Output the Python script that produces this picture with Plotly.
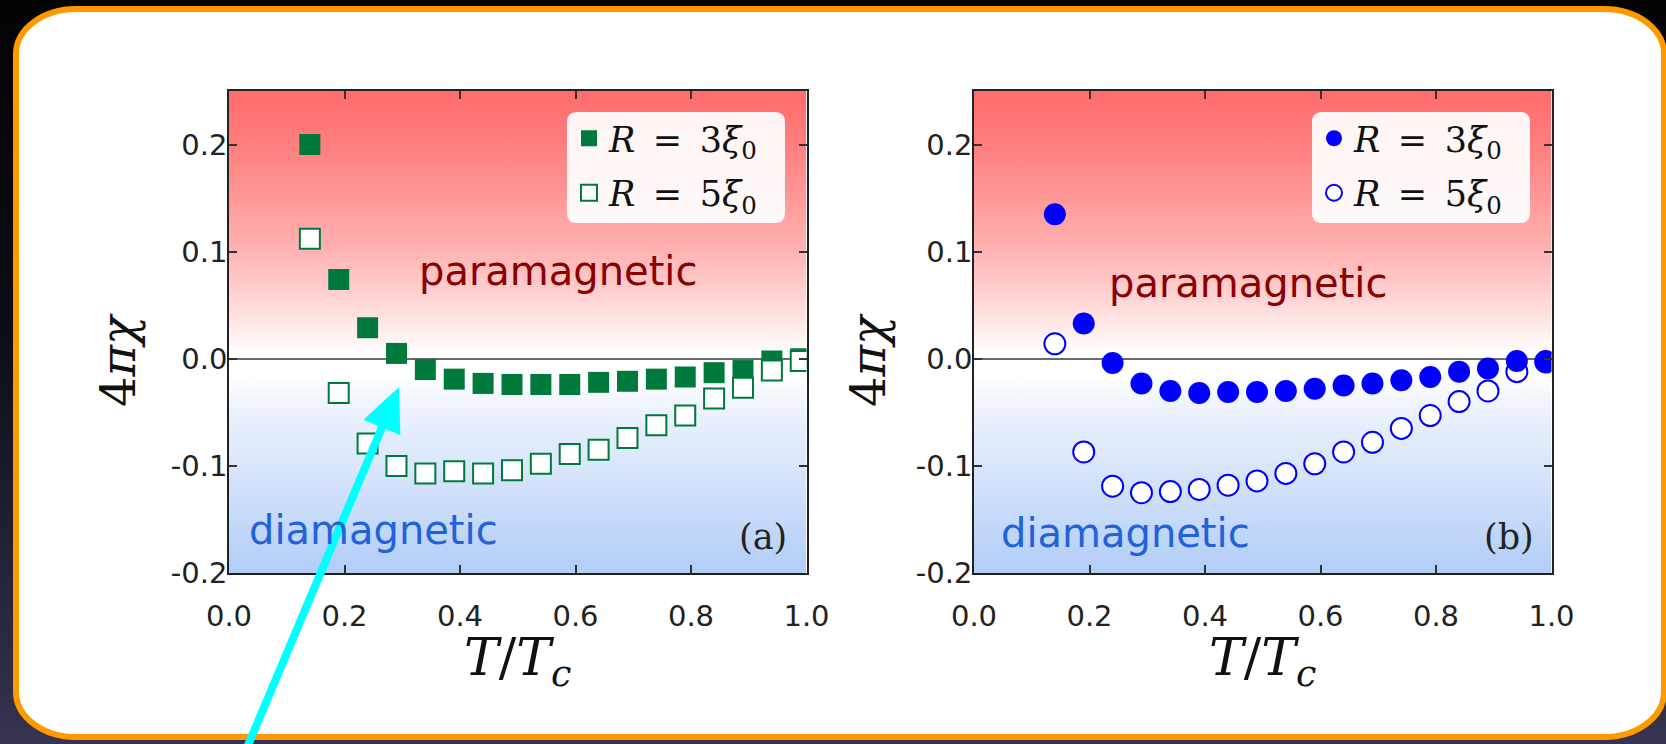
import base64
import math
import plotly.graph_objects as go

W, H = 1666, 744

# ---------------- data ----------------
T_over_Tc = [0.14, 0.19, 0.24, 0.29, 0.34, 0.39, 0.44, 0.49, 0.54,
             0.59, 0.64, 0.69, 0.74, 0.79, 0.84, 0.89, 0.94, 0.99]

chi_a_R3 = [0.200, 0.074, 0.029, 0.005, -0.010, -0.019, -0.023, -0.024, -0.024,
            -0.024, -0.022, -0.021, -0.019, -0.017, -0.013, -0.011, -0.002, 0.000]
chi_a_R5 = [0.112, -0.032, -0.079, -0.100, -0.107, -0.105, -0.107, -0.104, -0.098,
            -0.089, -0.085, -0.074, -0.062, -0.053, -0.037, -0.027, -0.011, -0.002]

chi_b_R3 = [0.135, 0.033, -0.004, -0.023, -0.030, -0.032, -0.031, -0.031, -0.030,
            -0.028, -0.025, -0.023, -0.020, -0.017, -0.012, -0.009, -0.002, -0.002]
chi_b_R5 = [0.014, -0.087, -0.119, -0.125, -0.124, -0.122, -0.118, -0.114, -0.107,
            -0.098, -0.087, -0.078, -0.065, -0.053, -0.040, -0.030, -0.012, -0.003]

series_labels = ["<i>R</i>\u2002=\u20023<i>ξ</i><sub>0</sub>",
                 "<i>R</i>\u2002=\u20025<i>ξ</i><sub>0</sub>"]
x_tickvals = [0.0, 0.2, 0.4, 0.6, 0.8, 1.0]
x_ticktext = ["0.0", "0.2", "0.4", "0.6", "0.8", "1.0"]
y_tickvals = [-0.2, -0.1, 0.0, 0.1, 0.2]
y_ticktext = ["-0.2", "-0.1", "0.0", "0.1", "0.2"]
x_range = [0.0, 1.0]
y_range = [-0.2, 0.25]
region_labels = ["paramagnetic", "diamagnetic"]
panel_labels = ["(a)", "(b)"]
x_title = "<i>T</i>/<i>T</i><sub><i>c</i></sub>"
y_title = "4<i>πχ</i>"


# ---------------- helpers ----------------
def px(x):
    return x / W


def py(y):
    return 1 - y / H


def svg_uri(svg):
    return "data:image/svg+xml;base64," + base64.b64encode(svg.encode("utf-8")).decode("ascii")


frame_svg = f"""<svg xmlns="http://www.w3.org/2000/svg" width="{W}" height="{H}" viewBox="0 0 {W} {H}" preserveAspectRatio="none">
<defs><linearGradient id="bg" x1="0" y1="0" x2="0" y2="1">
<stop offset="0" stop-color="#030304"/><stop offset="0.45" stop-color="#0d0d18"/>
<stop offset="1" stop-color="#36344f"/></linearGradient></defs>
<rect x="0" y="0" width="{W}" height="{H}" fill="url(#bg)"/>
<rect x="16" y="9" width="1648" height="728" rx="60" ry="45" fill="#ffffff" stroke="#ff9900" stroke-width="6"/>
</svg>"""

plot_svg = """<svg xmlns="http://www.w3.org/2000/svg" width="100" height="450" viewBox="0 0 100 450" preserveAspectRatio="none">
<defs><linearGradient id="pg" x1="0" y1="0" x2="0" y2="1">
<stop offset="0" stop-color="#ff6c6c"/>
<stop offset="0.111" stop-color="#ff7e7e"/>
<stop offset="0.333" stop-color="#ffb3b3"/>
<stop offset="0.444" stop-color="#ffd9d9"/>
<stop offset="0.545" stop-color="#ffffff"/>
<stop offset="0.585" stop-color="#ffffff"/>
<stop offset="0.667" stop-color="#ebf1fd"/>
<stop offset="0.778" stop-color="#d9e6fb"/>
<stop offset="1" stop-color="#b2cdf7"/>
</linearGradient></defs>
<rect x="0" y="0" width="100" height="450" fill="url(#pg)"/>
</svg>"""

GREEN = "#007a3c"
BLUE = "#0000ff"

fig = go.Figure()

# panel (a)
fig.add_trace(go.Scatter(
    x=T_over_Tc, y=chi_a_R3, mode="markers", name=series_labels[0],
    marker=dict(symbol="square", size=21, color=GREEN, line=dict(width=0)),
    xaxis="x", yaxis="y", legend="legend", legendgroup="a3", legendrank=1, hoverinfo="skip"))
fig.add_trace(go.Scatter(
    x=T_over_Tc, y=chi_a_R5, mode="markers", name=series_labels[1],
    marker=dict(symbol="square", size=20, color="white", line=dict(width=2, color=GREEN)),
    xaxis="x", yaxis="y", legend="legend", legendgroup="a5", legendrank=2, hoverinfo="skip"))

# panel (b)
fig.add_trace(go.Scatter(
    x=T_over_Tc, y=chi_b_R5, mode="markers", name=series_labels[1],
    marker=dict(symbol="circle", size=21, color="white", line=dict(width=2, color=BLUE)),
    xaxis="x2", yaxis="y2", legend="legend2", legendgroup="b5", legendrank=2, hoverinfo="skip"))
fig.add_trace(go.Scatter(
    x=T_over_Tc, y=chi_b_R3, mode="markers", name=series_labels[0],
    marker=dict(symbol="circle", size=22, color=BLUE, line=dict(width=0)),
    xaxis="x2", yaxis="y2", legend="legend2", legendgroup="b3", legendrank=1, hoverinfo="skip"))

axis_common = dict(
    showline=True, linecolor="#222222", linewidth=1.5, mirror="allticks",
    ticks="inside", ticklen=8, tickwidth=1.5, tickcolor="#333333",
    showgrid=False, fixedrange=True, automargin=False,
    tickfont=dict(family="DejaVu Sans", size=29, color="#222222"),
)
xdom_a = [px(229), px(806.5)]
xdom_b = [px(974), px(1551.5)]
ydom = [py(573), py(91)]

xaxis_kw = dict(axis_common, range=x_range, tickvals=x_tickvals, ticktext=x_ticktext,
                zeroline=False, ticklabelstandoff=16)
yaxis_kw = dict(axis_common, range=y_range, tickvals=y_tickvals, ticktext=y_ticktext,
                zeroline=True, zerolinecolor="#6a6a6a", zerolinewidth=2,
                ticklabelstandoff=-6)

legend_common = dict(
    bgcolor="rgba(0,0,0,0)", borderwidth=0, xanchor="left", yanchor="top",
    font=dict(family="DejaVu Serif", size=35, color="#111111"),
    itemsizing="trace", traceorder="grouped", tracegroupgap=6,
    itemclick=False, itemdoubleclick=False,
)

fig.update_layout(
    width=W, height=H,
    margin=dict(l=0, r=0, t=0, b=0, pad=0, autoexpand=False),
    paper_bgcolor="#000000", plot_bgcolor="rgba(0,0,0,0)",
    showlegend=True,
    xaxis=dict(xaxis_kw, domain=xdom_a, anchor="y"),
    yaxis=dict(yaxis_kw, domain=ydom, anchor="x"),
    xaxis2=dict(xaxis_kw, domain=xdom_b, anchor="y2"),
    yaxis2=dict(yaxis_kw, domain=ydom, anchor="x2"),
    legend=dict(legend_common, x=px(569), y=py(109)),
    legend2=dict(legend_common, x=px(1314), y=py(109)),
    hovermode=False,
)

# background: dark page, white rounded panel with orange border
fig.add_layout_image(dict(source=svg_uri(frame_svg), xref="paper", yref="paper",
                          x=0, y=1, sizex=1, sizey=1, xanchor="left", yanchor="top",
                          sizing="stretch", layer="below"))
# red/white/blue gradients behind the two panels
for xr, yr in (("x", "y"), ("x2", "y2")):
    fig.add_layout_image(dict(source=svg_uri(plot_svg), xref=xr, yref=yr,
                              x=x_range[0], y=y_range[1],
                              sizex=x_range[1] - x_range[0], sizey=y_range[1] - y_range[0],
                              xanchor="left", yanchor="top", sizing="stretch", layer="below"))


# white rounded legend boxes
def rounded_box(x0, y0, x1, y1, r):
    X = px
    Y = py
    return (f"M {X(x0 + r)},{Y(y0)} L {X(x1 - r)},{Y(y0)} Q {X(x1)},{Y(y0)} {X(x1)},{Y(y0 + r)} "
            f"L {X(x1)},{Y(y1 - r)} Q {X(x1)},{Y(y1)} {X(x1 - r)},{Y(y1)} "
            f"L {X(x0 + r)},{Y(y1)} Q {X(x0)},{Y(y1)} {X(x0)},{Y(y1 - r)} "
            f"L {X(x0)},{Y(y0 + r)} Q {X(x0)},{Y(y0)} {X(x0 + r)},{Y(y0)} Z")


for bx in (567, 1312):
    fig.add_shape(type="path", path=rounded_box(bx, 112, bx + 218, 223, 10),
                  xref="paper", yref="paper", fillcolor="rgba(255,255,255,0.93)",
                  line=dict(width=0), layer="above")

PARA_COLOR = "#8b0000"
DIA_COLOR = "#1f63d6"
region_font = dict(family="DejaVu Sans", size=40)
label_font = dict(family="DejaVu Serif", size=35, color="#222222")
annots = [
    dict(x=0.57, y=0.082, xref="x", yref="y", text=region_labels[0], font=dict(region_font, color=PARA_COLOR)),
    dict(x=0.25, y=-0.160, xref="x", yref="y", text=region_labels[1], font=dict(region_font, color=DIA_COLOR)),
    dict(x=0.925, y=-0.166, xref="x", yref="y", text=panel_labels[0], font=label_font),
    dict(x=0.474, y=0.071, xref="x2", yref="y2", text=region_labels[0], font=dict(region_font, color=PARA_COLOR)),
    dict(x=0.263, y=-0.163, xref="x2", yref="y2", text=region_labels[1], font=dict(region_font, color=DIA_COLOR)),
    dict(x=0.926, y=-0.166, xref="x2", yref="y2", text=panel_labels[1], font=label_font),
]
for a in annots:
    fig.add_annotation(showarrow=False, xanchor="center", yanchor="middle", **a)

# axis titles
title_font_x = dict(family="DejaVu Serif", size=52, color="#111111")
title_font_y = dict(family="DejaVu Serif", size=48, color="#111111")
for xc in ((229 + 806.5) / 2, (974 + 1551.5) / 2):
    fig.add_annotation(x=px(xc), y=py(661), xref="paper", yref="paper", text=x_title,
                       showarrow=False, xanchor="center", yanchor="middle", font=title_font_x)
for xc in (118, 868):
    fig.add_annotation(x=px(xc), y=py(360), xref="paper", yref="paper", text=y_title,
                       showarrow=False, xanchor="center", yanchor="middle", textangle=-90,
                       font=title_font_y)

# cyan pointer arrow (shaft + head drawn as shapes)
tip = (399.0, 387.0)
tail = (246.0, 750.0)
dx, dy = tip[0] - tail[0], tip[1] - tail[1]
L = math.hypot(dx, dy)
ux, uy = dx / L, dy / L
nx, ny = -uy, ux
head_len, head_half = 44.0, 20.0
bx_, by_ = tip[0] - head_len * ux, tip[1] - head_len * uy
CYAN = "#00ffff"
fig.add_shape(type="line", xref="paper", yref="paper",
              x0=px(tail[0]), y0=py(tail[1]), x1=px(bx_ + 4 * ux), y1=py(by_ + 4 * uy),
              line=dict(color=CYAN, width=8), layer="above")
fig.add_shape(type="path", xref="paper", yref="paper",
              path=(f"M {px(tip[0])},{py(tip[1])} "
                    f"L {px(bx_ + head_half * nx)},{py(by_ + head_half * ny)} "
                    f"L {px(bx_ - head_half * nx)},{py(by_ - head_half * ny)} Z"),
              fillcolor=CYAN, line=dict(width=0), layer="above")

fig.write_html("out.html", config={"displayModeBar": False})
